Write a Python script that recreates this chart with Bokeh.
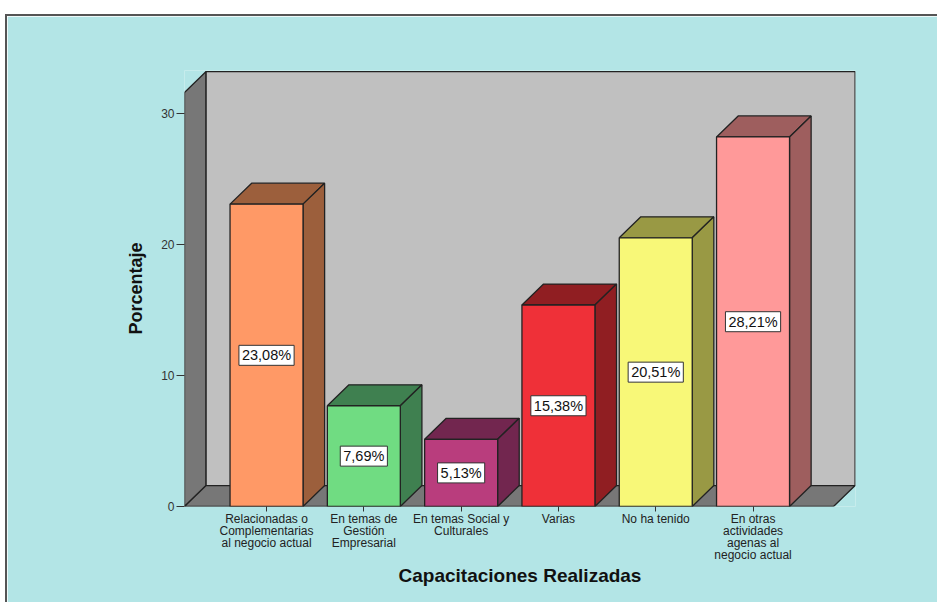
from bokeh.plotting import figure
from bokeh.models import Range1d, FixedTicker, Label
from bokeh.embed import file_html
from bokeh.resources import INLINE

# ---- data ----
categories = [
    "Relacionadas o\nComplementarias\nal negocio actual",
    "En temas de\nGestión\nEmpresarial",
    "En temas Social y\nCulturales",
    "Varias",
    "No ha tenido",
    "En otras\nactividades\nagenas al\nnegocio actual",
]
percentages = [23.08, 7.69, 5.13, 15.38, 20.51, 28.21]
front_colors = ["#FF9966", "#70DC82", "#B93D7D", "#EF3038", "#F8F878", "#FF9999"]
shade_colors = ["#9C5F3C", "#3F8050", "#72264F", "#901E22", "#999944", "#9E5E5E"]
y_ticks = [0, 10, 20, 30]

# ---- geometry (style) ----
HALF_W = 0.375     # half bar width, in category units
DX = 0.222         # depth offset x
DY = 1.60          # depth offset y
X_START, X_END = -0.843, 6.053
Y_TOP = 33.28
WALL_FRONT_TOP = 31.6
FLOOR_RIGHT = 5.827
EDGE = "#222222"

p = figure(frame_width=671, frame_height=436,
           x_range=Range1d(X_START, X_END), y_range=Range1d(0, Y_TOP),
           output_backend="svg", toolbar_location=None,
           min_border_left=177, min_border_right=82,
           min_border_top=54, min_border_bottom=96,
           background_fill_color="#B3E5E6", border_fill_color="#B3E5E6")
p.margin = (14, 0, 0, 5)
p.styles = {"border-left": "2px solid #555555", "border-top": "2px solid #555555"}
p.outline_line_color = None
p.xgrid.visible = False
p.ygrid.visible = False

# walls
p.patch([X_START, X_START, X_START + DX, X_START + DX],
        [0, WALL_FRONT_TOP, WALL_FRONT_TOP + DY, DY],
        fill_color="#777777", line_color=EDGE, line_width=1.3)
p.patch([X_START + DX, X_START + DX, FLOOR_RIGHT + DX, FLOOR_RIGHT + DX],
        [DY, WALL_FRONT_TOP + DY, WALL_FRONT_TOP + DY, DY],
        fill_color="#C0C0C0", line_color=EDGE, line_width=1.3)
p.patch([X_START, FLOOR_RIGHT, FLOOR_RIGHT + DX, X_START + DX],
        [0, 0, DY, DY],
        fill_color="#777777", line_color=EDGE, line_width=1.3)

# bars
xs = list(range(len(percentages)))
for i, v in zip(xs, percentages):
    l, r = i - HALF_W, i + HALF_W
    # top face
    p.patch([l, r, r + DX, l + DX], [v, v, v + DY, v + DY],
            fill_color=shade_colors[i], line_color=EDGE, line_width=1.3)
    # side face
    p.patch([r, r + DX, r + DX, r], [0, DY, v + DY, v],
            fill_color=shade_colors[i], line_color=EDGE, line_width=1.3)
p.quad(left=[i - HALF_W for i in xs], right=[i + HALF_W for i in xs],
       bottom=0, top=percentages, fill_color=front_colors,
       line_color=EDGE, line_width=1.3)

# value labels
for i, v in zip(xs, percentages):
    txt = f"{v:.2f}%".replace(".", ",")
    p.add_layout(Label(x=i, y=v / 2, text=txt, text_align="center",
                       text_baseline="middle", text_font="Liberation Sans",
                       text_font_size="14.5px", text_color="#111111",
                       background_fill_color="white",
                       border_line_color="#333333", border_line_width=1,
                       padding=(3, 2)))

# axes
p.xaxis.ticker = FixedTicker(ticks=xs)
p.xaxis.major_label_overrides = {i: c for i, c in zip(xs, categories)}
p.xaxis.axis_line_color = None
p.xaxis.major_tick_out = 5
p.xaxis.major_tick_in = 0
p.xaxis.major_tick_line_color = "#333333"
p.xaxis.minor_tick_line_color = None
p.xaxis.major_label_text_font = "Liberation Sans"
p.xaxis.major_label_text_font_size = "12px"
p.xaxis.major_label_text_color = "#222222"
p.xaxis.major_label_text_line_height = 0.86
p.xaxis.major_label_standoff = 0
p.xaxis.axis_label = "Capacitaciones Realizadas"
p.xaxis.axis_label_text_font = "Liberation Sans"
p.xaxis.axis_label_text_font_style = "bold"
p.xaxis.axis_label_text_font_size = "19px"
p.xaxis.axis_label_text_color = "#111111"
p.xaxis.axis_label_standoff = 0

p.yaxis.ticker = FixedTicker(ticks=y_ticks)
p.yaxis.axis_line_color = None
p.yaxis.major_tick_out = 8
p.yaxis.major_tick_in = 0
p.yaxis.major_tick_line_color = "#333333"
p.yaxis.minor_tick_line_color = None
p.yaxis.major_label_text_font = "Liberation Sans"
p.yaxis.major_label_text_font_size = "12px"
p.yaxis.major_label_text_color = "#333333"
p.yaxis.major_label_standoff = 2
p.yaxis.axis_label = "Porcentaje"
p.yaxis.axis_label_text_font = "Liberation Sans"
p.yaxis.axis_label_text_font_style = "bold"
p.yaxis.axis_label_text_font_size = "18px"
p.yaxis.axis_label_text_color = "#111111"
p.yaxis.axis_label_standoff = 12

open("out.html", "w").write(file_html(p, INLINE))
